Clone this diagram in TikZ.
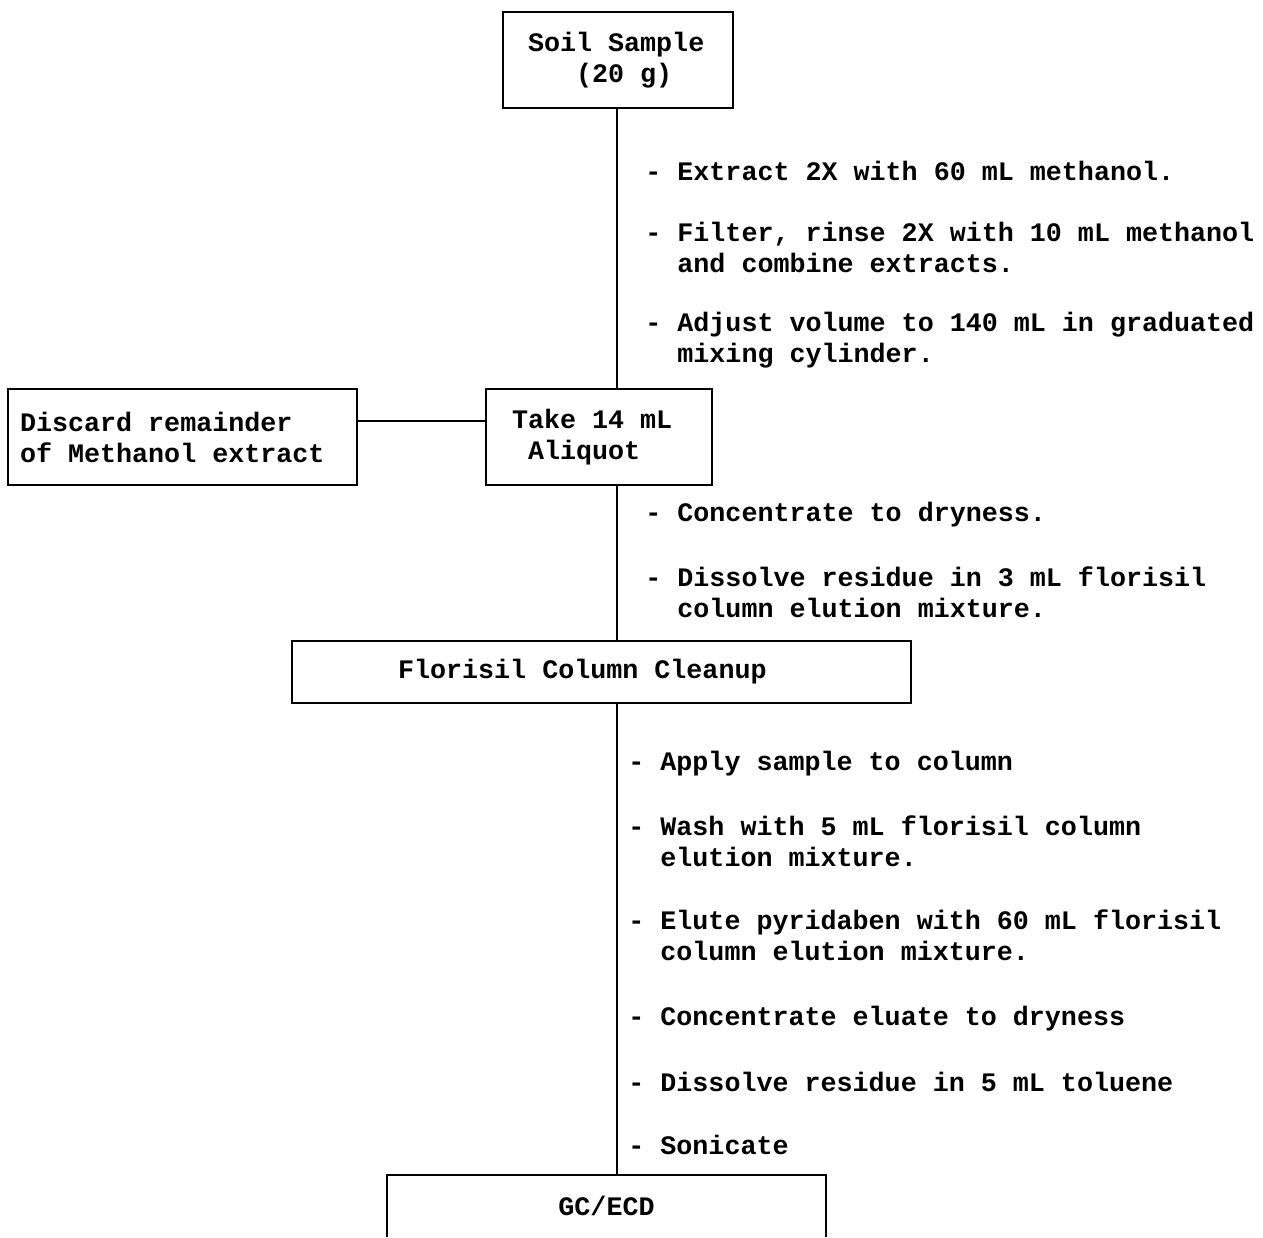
\documentclass[tikz,border=0pt]{standalone}
\usepackage{fontspec}
\setmainfont{Liberation Mono}
\newcommand{\monosp}{\spaceskip=0.6em\xspaceskip=0.6em\relax}
\begin{document}
\begin{tikzpicture}[x=0.02cm,y=-0.02cm,
  every node/.style={font=\fontsize{15.2}{17.6}\selectfont\bfseries},
  box/.style={draw,line width=1.2pt,inner ysep=0pt,align=left},
  steptext/.style={anchor=west,align=left,inner sep=0pt},
  link/.style={line width=1.2pt}]
\useasboundingbox (0,0) rectangle (1263,1237);
\node[box,inner xsep=0.5cm,text width=3.6cm,minimum height=1.92cm] (soil) at (618,60) {\monosp Soil Sample\\\hspace*{1.8em}(20 g)};
\node[box,inner xsep=0.52cm,text width=3.48cm,minimum height=1.92cm] (take) at (599,437) {\monosp Take 14 mL\\\hspace*{0.6em}Aliquot};
\node[box,inner xsep=0.24cm,text width=6.5cm,minimum height=1.92cm] (discard) at (182.5,437) {\monosp Discard remainder\\of Methanol extract};
\node[box,inner xsep=2.12cm,text width=8.14cm,minimum height=1.24cm] (flor) at (601.5,672) {\monosp Florisil Column Cleanup};
\node[minimum width=8.78cm,minimum height=1.24cm,inner sep=0pt] (gc) at (606.5,1206) {GC/ECD};
\draw[link] (gc.south west) -- (gc.north west) -- (gc.north east) -- (gc.south east);
\coordinate (spine) at (617,0);
\coordinate (linky) at (0,421);
\draw[link] (soil.south -| spine) -- (take.north -| spine);
\draw[link] (take.south -| spine) -- (flor.north -| spine);
\draw[link] (flor.south -| spine) -- (gc.north -| spine);
\draw[link] (discard.east |- linky) -- (take.west |- linky);
\node[steptext] (s1) at (645,171) {- Extract 2X with 60 mL methanol.};
\node[steptext] (s2) at (645,247.5) {- Filter, rinse 2X with 10 mL methanol\\\hspace*{1.2em}and combine extracts.};
\node[steptext] (s3) at (645,340.5) {- Adjust volume to 140 mL in graduated\\\hspace*{1.2em}mixing cylinder.};
\node[steptext] (s4) at (645,515) {- Concentrate to dryness.};
\node[steptext] (s5) at (645,592.5) {- Dissolve residue in 3 mL florisil\\\hspace*{1.2em}column elution mixture.};
\node[steptext] (s6) at (628,764) {- Apply sample to column};
\node[steptext] (s7) at (628,841.5) {- Wash with 5 mL florisil column\\\hspace*{1.2em}elution mixture.};
\node[steptext] (s8) at (628,935.5) {- Elute pyridaben with 60 mL florisil\\\hspace*{1.2em}column elution mixture.};
\node[steptext] (s9) at (628,1019) {- Concentrate eluate to dryness};
\node[steptext] (s10) at (628,1082) {- Dissolve residue in 5 mL toluene};
\node[steptext] (s11) at (628,1145) {- Sonicate};
\end{tikzpicture}
\end{document}
